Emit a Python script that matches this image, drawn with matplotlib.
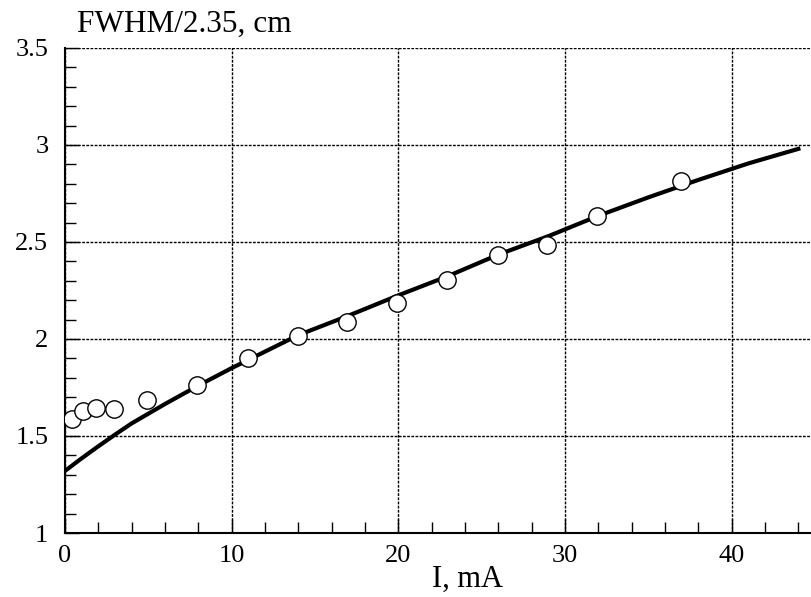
import matplotlib
matplotlib.use("Agg")
import matplotlib.pyplot as plt
from matplotlib.ticker import MultipleLocator

plt.rcParams["font.family"] = ["Liberation Serif", "DejaVu Serif"]

# measured points
current = [0.42, 1.08, 1.86, 2.94, 4.92, 7.92, 10.98, 13.98, 16.9, 19.9,
           22.9, 25.98, 28.9, 31.9, 36.95]
width = [1.59, 1.63, 1.645, 1.64, 1.686, 1.763, 1.90, 2.015, 2.088, 2.186,
         2.304, 2.433, 2.485, 2.634, 2.814]

# fitted curve
fit_x = [0, 1, 2, 3, 4, 5, 6, 8, 10, 12, 14, 17, 20, 23, 26, 29, 32, 35,
         38, 41, 44]
fit_y = [1.32, 1.385, 1.447, 1.507, 1.565, 1.615, 1.665, 1.76, 1.85, 1.935,
         2.02, 2.12, 2.225, 2.325, 2.435, 2.53, 2.635, 2.73, 2.82, 2.905,
         2.98]

fig = plt.figure(figsize=(8.11, 5.97), dpi=100)
ax = fig.add_axes([65 / 811, 64 / 597, 746 / 811, 485 / 597])

ax.plot(fit_x, fit_y, color="black", lw=3, zorder=3)
ax.plot(current, width, "o", ms=12.5, mfc="white", mec="black", mew=1,
        zorder=4)

ax.set_xlim(0, 44.76)
ax.set_ylim(1, 3.5)
ax.xaxis.set_major_locator(MultipleLocator(10))
ax.xaxis.set_minor_locator(MultipleLocator(2))
ax.yaxis.set_major_locator(MultipleLocator(0.5))
ax.yaxis.set_minor_locator(MultipleLocator(0.1))
ax.set_yticks([1, 1.5, 2, 2.5, 3, 3.5], ["1", "1.5", "2", "2.5", "3", "3.5"])

ax.grid(True, which="major", color="black", ls=(0, (2, 1)), lw=1)
ax.tick_params(which="both", direction="in", labelsize=19, top=False,
               right=False, color="black")
ax.tick_params(which="major", length=10, width=1)
ax.tick_params(axis="y", which="major", pad=12)
ax.tick_params(axis="x", which="major", pad=9)
ax.tick_params(which="minor", length=8, width=1)
ax.spines["top"].set_visible(False)
ax.spines["right"].set_visible(False)
ax.spines["left"].set_linewidth(1.5)
ax.spines["bottom"].set_linewidth(1.5)

fig.text(432 / 811, 1 - 587 / 597, "I, mA", fontsize=22, ha="left",
         va="baseline")
fig.text(77 / 811, 1 - 32 / 597, "FWHM/2.35, cm", fontsize=22.5, ha="left",
         va="baseline")

fig.savefig("out.png", dpi=100)
